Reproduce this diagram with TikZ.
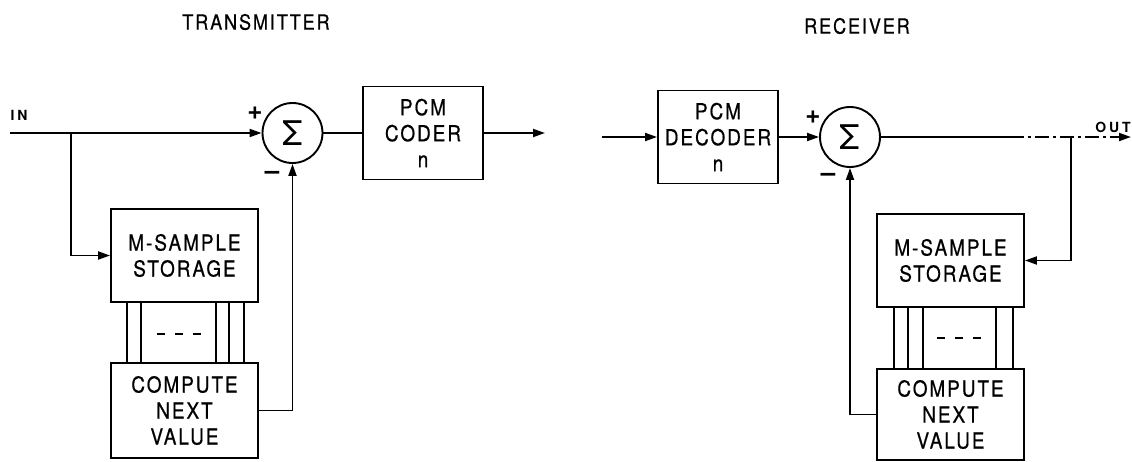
\documentclass[tikz,border=0pt]{standalone}
\usepackage{fontspec}
\setmainfont{TeX Gyre Heros}
\newfontfamily\lf[LetterSpace=9,FakeStretch=0.86,FakeBold=0.6]{TeX Gyre Heros}
\usetikzlibrary{arrows.meta}
\tikzset{
  every node/.style={font=\lf\fontsize{22}{26}\selectfont},
  blk/.style={draw, line width=1.9pt, rectangle, inner sep=0pt, align=center, minimum width=147pt},
  pcm/.style={draw, line width=1.9pt, rectangle, inner sep=0pt, align=center, minimum width=120pt, minimum height=93pt},
  summ/.style={draw, line width=1.9pt, circle, inner sep=0pt, minimum size=60pt, font=\fontsize{34}{34}\selectfont},
  wire/.style={line width=1.9pt},
  arr/.style={line width=1.9pt, -{Triangle[length=12pt,width=8pt]}},
  sgn/.style={font=\bfseries\fontsize{26}{26}\selectfont, inner sep=0pt},
  ttl/.style={font=\lf\fontsize{21}{21}\selectfont, inner sep=0pt},
  lbl/.style={font=\addfontfeature{LetterSpace=20}\bfseries\fontsize{14}{14}\selectfont, inner sep=0pt}
}
\begin{document}
\begin{tikzpicture}[x=1pt,y=-1pt]
\useasboundingbox (0,0) rectangle (1132,461);
% titles
\node[ttl] (t1) at (256,22) {TRANSMITTER};
\node[ttl] (t2) at (857,26) {RECEIVER};
% transmitter
\node[summ] (s1) at (292.5,133) {Σ};
\node[pcm] (coder) at (423,133) {PCM\\CODER\\n};
\node[blk, minimum height=93pt] (ss) at (184.5,255.5) {M-SAMPLE\\STORAGE};
\node[blk, minimum height=95pt] (cn) at (184.5,410.5) {COMPUTE\\NEXT\\VALUE};
\node[lbl] (inl) at (19,115) {IN};
\node[sgn] (p1) at (255,113) {+};
\node[sgn] (m1) at (272,175) {–};
\coordinate (in) at (10,133);
\coordinate (br) at (71,133);
\coordinate (tx) at (545,133);
\draw[arr] (in) -- (s1.west);
\draw[arr] (br) |- (ss.west);
\draw[wire] (s1.east) -- (coder.west);
\draw[arr] (coder.east) -- (tx);
\draw[arr] (cn.east) -| (s1.south);
\foreach \x in {127,141,216,229,244} \draw[wire] (\x,302) -- (\x,363);
\draw[wire, dash pattern=on 8pt off 10pt] (157,334) -- (201,334);
% receiver
\node[pcm] (dec) at (718,137) {PCM\\DECODER\\n};
\node[summ] (s2) at (850,137) {Σ};
\node[blk, minimum height=93pt] (rs) at (950.5,260.5) {M-SAMPLE\\STORAGE};
\node[blk, minimum height=91pt] (rc) at (950.5,414.5) {COMPUTE\\NEXT\\VALUE};
\node[sgn] (p2) at (813,117) {+};
\node[sgn] (m2) at (828,177) {–};
\node[lbl] (outl) at (1113,127) {OUT};
\coordinate (rin) at (602,137);
\coordinate (obr) at (1071,137);
\coordinate (mid) at (1010,137);
\coordinate (out) at (1131,137);
\draw[arr] (rin) -- (dec.west);
\draw[arr] (dec.east) -- (s2.west);
\draw[wire] (s2.east) -- (mid);
\draw[arr, dash pattern=on 14pt off 4pt on 3pt off 4pt] (mid) -- (out);
\draw[arr] (obr) |- (rs.east);
\draw[arr] (rc.west) -| (s2.south);
\foreach \x in {894,908,923,996,1013} \draw[wire] (\x,307) -- (\x,369);
\draw[wire, dash pattern=on 8pt off 10pt] (937,338) -- (981,338);
\end{tikzpicture}
\end{document}
